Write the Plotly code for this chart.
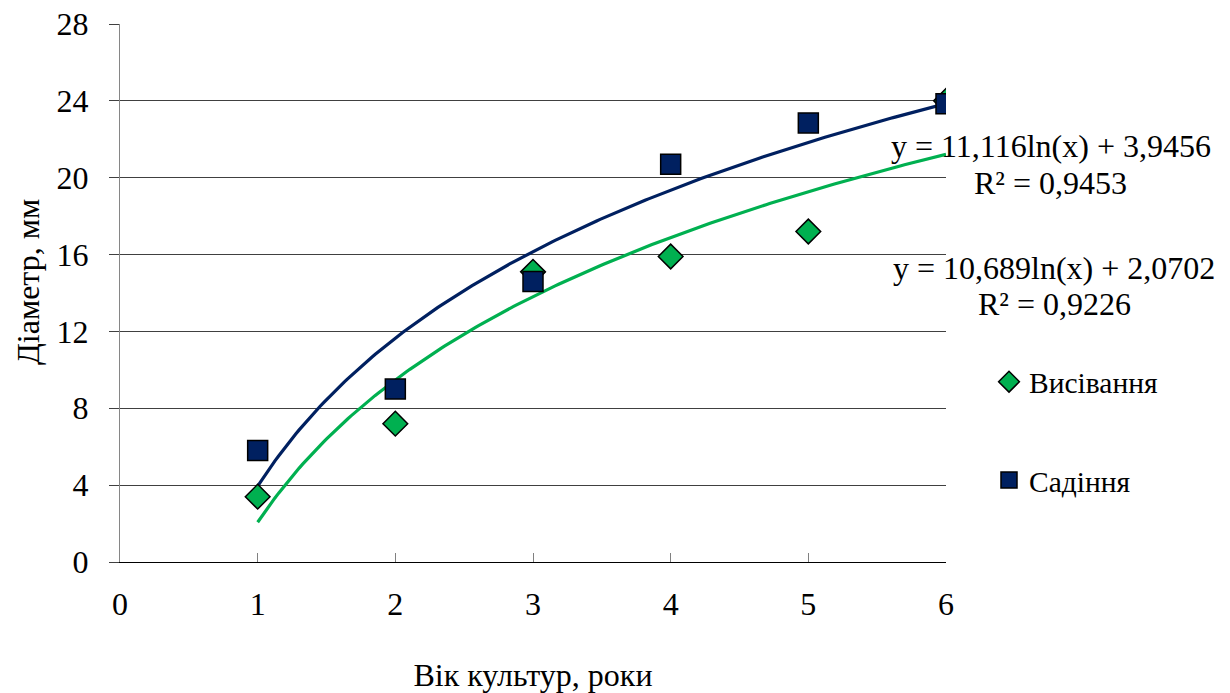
import numpy as np
import plotly.graph_objects as go

# Age of plantations, years
ages = [1, 2, 3, 4, 5, 6]

# Stem diameter, mm
diam_sowing = [3.4, 7.2, 15.1, 15.9, 17.2, 24.0]      # Висівання
diam_planting = [5.8, 9.0, 14.6, 20.7, 22.85, 23.85]  # Садіння

# Logarithmic trend coefficients y = a*ln(x) + b and R²
trend_planting = (11.116, 3.9456, 0.9453)
trend_sowing = (10.689, 2.0702, 0.9226)

y_ticks = [0, 4, 8, 12, 16, 20, 24, 28]
x_ticks = [0, 1, 2, 3, 4, 5, 6]

GREEN = "#00B050"
NAVY = "#002060"
FONT = "Liberation Serif, Times New Roman, serif"
base_font = dict(family=FONT, size=32, color="black")
legend_font = dict(family=FONT, size=29.5, color="black")

xs = np.linspace(1, 6, 200)

fig = go.Figure()

# trend curves (under the markers)
fig.add_trace(go.Scatter(
    x=xs, y=trend_sowing[0] * np.log(xs) + trend_sowing[1],
    mode="lines", line=dict(color=GREEN, width=3.2),
    showlegend=False, hoverinfo="skip"))
fig.add_trace(go.Scatter(
    x=xs, y=trend_planting[0] * np.log(xs) + trend_planting[1],
    mode="lines", line=dict(color=NAVY, width=3.2),
    showlegend=False, hoverinfo="skip"))

# observed points
fig.add_trace(go.Scatter(
    x=ages, y=diam_sowing, mode="markers", name="Висівання",
    legendgroup="a",
    marker=dict(symbol="diamond", size=19, color=GREEN,
                line=dict(color="black", width=1.5))))
fig.add_trace(go.Scatter(
    x=ages, y=diam_planting, mode="markers", name="Садіння",
    legendgroup="b",
    marker=dict(symbol="square", size=20, color=NAVY,
                line=dict(color="black", width=1.5))))


def fmt(v, nd):
    return f"{v:.{nd}f}".replace(".", ",")


W, H = 1230, 693
L, R, T, B = 120, 284, 24, 131
pw, ph = W - L - R, H - T - B


def px(xp):
    return (xp - L) / pw


def py(yp):
    return (H - B - yp) / ph


# trend equations, one line per annotation
labels = [
    (f"y = {fmt(trend_planting[0], 3)}ln(x) + {fmt(trend_planting[1], 4)}", 1051, 146),
    (f"R² = {fmt(trend_planting[2], 4)}", 1050, 183),
    (f"y = {fmt(trend_sowing[0], 3)}ln(x) + {fmt(trend_sowing[1], 4)}", 1054, 268),
    (f"R² = {fmt(trend_sowing[2], 4)}", 1054, 304),
]
for text, cx, cy in labels:
    fig.add_annotation(x=px(cx), y=py(cy), xref="paper", yref="paper",
                       xanchor="center", yanchor="middle",
                       text=text, showarrow=False, font=base_font)

# vertical axis title
fig.add_annotation(x=px(28), y=py(282), xref="paper", yref="paper",
                   xanchor="center", yanchor="middle", textangle=-90,
                   text="Діаметр, мм", showarrow=False, font=base_font)

fig.update_layout(
    width=W, height=H,
    margin=dict(l=L, r=R, t=T, b=B, pad=0),
    paper_bgcolor="white", plot_bgcolor="white",
    font=base_font,
    showlegend=True,
    legend=dict(x=px(989), y=py(356), xanchor="left", yanchor="top",
                traceorder="grouped", tracegroupgap=57,
                itemwidth=30, font=legend_font,
                bgcolor="rgba(0,0,0,0)"),
    xaxis=dict(range=[0, 6], tickvals=x_ticks, ticks="inside", ticklen=9,
               tickcolor="#808080", showline=True, linecolor="black",
               linewidth=1, showgrid=False, zeroline=False, automargin=False,
               tickfont=base_font, ticklabelstandoff=14,
               title=dict(text="Вік культур, роки", standoff=45,
                          font=base_font)),
    yaxis=dict(range=[0, 28], tickvals=y_ticks, ticks="outside", ticklen=10,
               tickcolor="#404040", showline=True, linecolor="#868686",
               linewidth=1, showgrid=True, gridcolor="#404040", gridwidth=1,
               zeroline=False, automargin=False,
               tickfont=base_font, ticklabelstandoff=14),
)

fig.write_html("out.html")
